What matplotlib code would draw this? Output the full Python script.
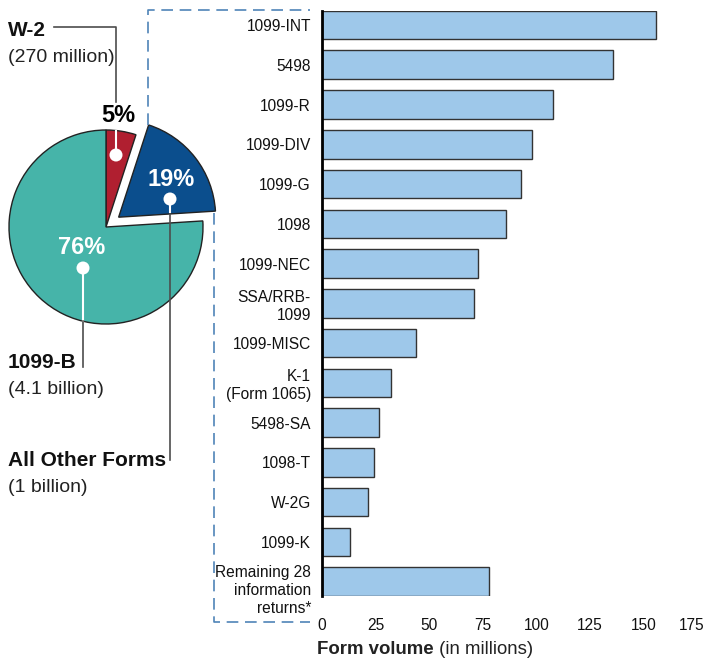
import matplotlib
matplotlib.use("Agg")
import matplotlib.pyplot as plt
from matplotlib import font_manager as fm
import matplotlib.transforms as mtransforms

# ---------------- data ----------------
forms = ["1099-INT", "5498", "1099-R", "1099-DIV", "1099-G", "1098", "1099-NEC",
         "SSA/RRB-\n1099", "1099-MISC", "K-1\n(Form 1065)", "5498-SA", "1098-T",
         "W-2G", "1099-K", "Remaining 28\ninformation\nreturns*"]
volumes = [156, 136, 108, 98, 93, 86, 73, 71, 44, 32, 26.5, 24.3, 21.5, 13, 78]
xticks = [0, 25, 50, 75, 100, 125, 150, 175]

pie_names = ["W-2", "All Other Forms", "1099-B"]
pie_amounts = ["(270 million)", "(1 billion)", "(4.1 billion)"]
pie_shares = [5, 19, 76]
pie_pct = ["5%", "19%", "76%"]

# ---------------- fonts ----------------
names = {f.name for f in fm.fontManager.ttflist}
NARROW = "Liberation Sans Narrow" if "Liberation Sans Narrow" in names else "Liberation Sans"
narrow_size = 13 if NARROW == "Liberation Sans Narrow" else 11.2
plt.rcParams["font.family"] = ["Liberation Sans", "DejaVu Sans"]

W, H = 704, 659
fig = plt.figure(figsize=(W / 100, H / 100), dpi=100)

# overlay axes in pixel coordinates (y downward)
ov = fig.add_axes([0, 0, 1, 1])
ov.set_axis_off()

pie_colors = ["#b01f30", "#0b4e8d", "#46b4a9"]
cx, cy, R = 106, 227, 97
wedges, _ = ov.pie(pie_shares, colors=pie_colors, startangle=-90, counterclock=True,
                   explode=[0, 16, 0], radius=R, center=(cx, cy),
                   wedgeprops=dict(edgecolor="#222222", linewidth=1.0))
ov.set_xlim(0, W)
ov.set_ylim(H, 0)
ov.set_aspect("auto")

line_gray = "#4d4d4d"
# dashed connector box
dash_col = "#4f84b8"
ds = dict(color=dash_col, lw=1.2, linestyle=(0, (7, 4)))
ov.plot([148, 148, 310], [125, 10, 10], **ds)
ov.plot([214, 214, 310], [213, 622, 622], **ds)

# leader lines
# W-2
ov.plot([116, 116, 54], [102, 27, 27], color=line_gray, lw=1.2)
ov.plot([116, 116], [131, 155], color="white", lw=1.5)
# All other forms
ov.plot([170, 170], [199, 212], color="white", lw=1.5)
ov.plot([170, 170], [214, 460], color=line_gray, lw=1.2)
# 1099-B
ov.plot([83, 83], [268, 321], color="white", lw=1.5)
ov.plot([83, 83], [321, 367], color=line_gray, lw=1.2)

# dots
for (x, y) in [(116, 155), (170, 199), (83, 268)]:
    ov.add_patch(plt.Circle((x, y), 6.5, facecolor="white", edgecolor="none", zorder=5))

# percent labels
ov.text(118, 115, pie_pct[0], color="black", fontsize=17, fontweight="bold",
        ha="center", va="center")
ov.text(171, 180, pie_pct[1], color="white", fontsize=17, fontweight="bold",
        ha="center", va="center")
ov.text(82, 248, pie_pct[2], color="white", fontsize=17, fontweight="bold",
        ha="center", va="center")

# name labels
name_pos = [(30, 58), (460, 488), (363, 390)]
for name, amt, (y1, y2) in zip(pie_names, pie_amounts, name_pos):
    ov.text(8, y1, name, fontsize=15, fontweight="bold", ha="left", va="center",
            color="#111111")
    ov.text(8, y2, amt, fontsize=14, ha="left", va="center", color="#222222")

# ---------------- bar chart ----------------
x0, x1 = 322, 697
ytop, ybot = 10.7, 596
ax = fig.add_axes([x0 / W, (H - ybot) / H, (x1 - x0) / W, (ybot - ytop) / H])
ax.set_facecolor("none")
ypos = list(range(len(forms)))
ax.barh(ypos, volumes, height=0.72, color="#9ec8ea", edgecolor="#333333", linewidth=1.0)
ax.set_xlim(0, 175)
ax.set_ylim(len(forms) - 1 + 0.36, -0.36)
ax.set_yticks(ypos)
ax.set_yticklabels(forms, fontfamily=NARROW, fontsize=narrow_size, linespacing=1.25,
                   color="#111111")
ax.set_xticks(xticks)
ax.set_xticklabels([str(t) for t in xticks], fontfamily=NARROW, fontsize=narrow_size,
                   color="#111111")
ax.tick_params(axis="both", length=0)
ax.tick_params(axis="y", pad=8)
ax.tick_params(axis="x", pad=16)
for s in ["top", "right", "bottom"]:
    ax.spines[s].set_visible(False)
ax.spines["left"].set_linewidth(2)
ax.spines["left"].set_color("black")

# shift last multi-line label slightly down as in reference
lab = ax.get_yticklabels()[-1]
lab.set_transform(lab.get_transform() + mtransforms.ScaledTranslation(0, -6 / 100, fig.dpi_scale_trans))
# keep the last x tick label inside the figure
xl = ax.get_xticklabels()[-1]
xl.set_transform(xl.get_transform() + mtransforms.ScaledTranslation(-5 / 100, 0, fig.dpi_scale_trans))

# x label: bold + regular
t1 = ov.text(317, 650, "Form volume", fontsize=13.4, fontweight="bold", ha="left",
             va="center", color="#222222")
ov.annotate(" (in millions)", xy=(1, 0), xycoords=t1, ha="left", va="bottom",
            fontsize=13.4, color="#222222")

fig.savefig("out.png", dpi=100)
